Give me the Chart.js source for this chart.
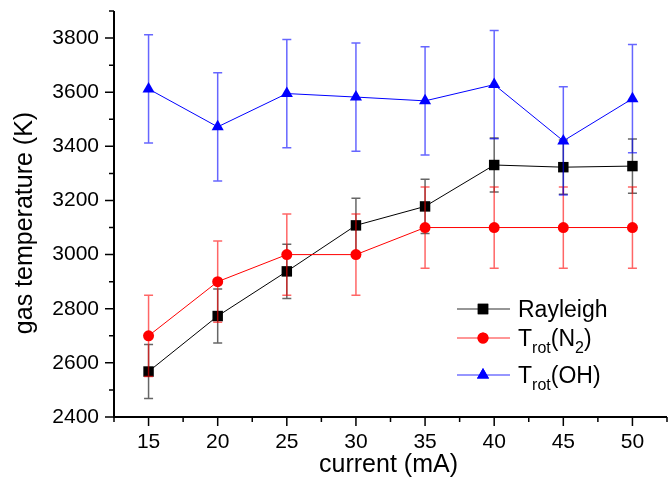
<!DOCTYPE html>
<html>
<head>
<meta charset="utf-8">
<script src="https://cdn.jsdelivr.net/npm/chart.js@4.4.1/dist/chart.umd.min.js"></script>
<style>
  html, body { margin: 0; padding: 0; background: #fff; }
  #wrap { width: 670px; height: 483px; }
</style>
</head>
<body>
<div id="wrap"><canvas id="chart" width="670" height="483"></canvas></div>
<script>
const currents = [15, 20, 25, 30, 35, 40, 45, 50];
const rayleigh = [2568, 2773, 2938, 3108, 3178, 3331, 3323, 3327];
const rayleighErr = [100, 100, 100, 100, 100, 100, 100, 100];
const trotN2 = [2700, 2900, 3000, 3000, 3100, 3100, 3100, 3100];
const trotN2Err = [150, 150, 150, 150, 150, 150, 150, 150];
const trotOH = [3612, 3472, 3595, 3582, 3568, 3628, 3420, 3576];
const trotOHErr = [200, 200, 200, 200, 200, 200, 200, 200];
const xTicks = [15, 20, 25, 30, 35, 40, 45, 50];
const yTicks = [2400, 2600, 2800, 3000, 3200, 3400, 3600, 3800];

const FONT = '"Liberation Sans", Arial, sans-serif';
const errColors = ['rgba(0,0,0,0.6)', 'rgba(255,0,0,0.6)', 'rgba(0,0,255,0.6)'];
const errData = [rayleighErr, trotN2Err, trotOHErr];

const toPoints = ys => currents.map((x, i) => ({ x: x, y: ys[i] }));

// error bars, drawn right after each dataset so the stacking matches
const errorBars = {
    id: 'errorBars',
    afterDatasetDraw(chart, args) {
        const errs = errData[args.index];
        const vals = [rayleigh, trotN2, trotOH][args.index];
        const { ctx, scales: { x, y } } = chart;
        ctx.save();
        ctx.strokeStyle = errColors[args.index];
        ctx.lineWidth = 1.5;
        currents.forEach((c, i) => {
            const px = x.getPixelForValue(c);
            const top = y.getPixelForValue(vals[i] + errs[i]);
            const bot = y.getPixelForValue(vals[i] - errs[i]);
            ctx.beginPath();
            ctx.moveTo(px, top); ctx.lineTo(px, bot);
            ctx.moveTo(px - 4.5, top); ctx.lineTo(px + 4.5, top);
            ctx.moveTo(px - 4.5, bot); ctx.lineTo(px + 4.5, bot);
            ctx.stroke();
        });
        ctx.restore();
    }
};

// axis lines, major/minor ticks, titles and the legend
const decorations = {
    id: 'decorations',
    afterDraw(chart) {
        const { ctx, chartArea: a, scales: { x, y } } = chart;
        ctx.save();
        ctx.strokeStyle = '#000';
        ctx.lineWidth = 2;
        ctx.beginPath();
        ctx.moveTo(a.left, a.top); ctx.lineTo(a.left, a.bottom + 1);
        ctx.moveTo(a.left - 1, a.bottom); ctx.lineTo(a.right, a.bottom);
        ctx.stroke();

        ctx.lineWidth = 1.5;
        ctx.beginPath();
        for (let v = 12.5; v <= 52.5; v += 2.5) {
            const px = x.getPixelForValue(v);
            const len = v % 5 === 0 ? 9 : 5;
            ctx.moveTo(px, a.bottom); ctx.lineTo(px, a.bottom + len);
        }
        for (let v = 2400; v <= 3900; v += 100) {
            const py = y.getPixelForValue(v);
            const len = v % 200 === 0 ? 9 : 5;
            ctx.moveTo(a.left, py); ctx.lineTo(a.left - len, py);
        }
        ctx.stroke();

        ctx.fillStyle = '#000';
        ctx.font = '25px ' + FONT;
        ctx.textAlign = 'center';
        ctx.textBaseline = 'alphabetic';
        ctx.fillText('current (mA)', (a.left + a.right) / 2 - 2, 472);

        ctx.save();
        ctx.translate(32, 223);
        ctx.rotate(-Math.PI / 2);
        ctx.fillText('gas temperature (K)', 0, 0);
        ctx.restore();

        // legend
        const rows = [
            { color: '#000', line: 'rgba(0,0,0,0.55)', style: 'rect', base: 317, parts: [['Rayleigh', false]] },
            { color: '#f00', line: 'rgba(255,0,0,0.55)', style: 'circle', base: 346, parts: [['T', false], ['rot', true], ['(N', false], ['2', true], [')', false]] },
            { color: '#00f', line: 'rgba(0,0,255,0.55)', style: 'triangle', base: 383, parts: [['T', false], ['rot', true], ['(OH)', false]] }
        ];
        const radii = { rect: 7.4, circle: 5.5, triangle: 7 };
        rows.forEach(r => {
            const cy = r.base - 8;
            ctx.strokeStyle = r.line;
            ctx.lineWidth = 1.5;
            ctx.beginPath();
            ctx.moveTo(457, cy); ctx.lineTo(510, cy);
            ctx.stroke();
            ctx.fillStyle = r.color;
            Chart.helpers.drawPoint(ctx, { pointStyle: r.style, radius: radii[r.style], borderWidth: 0, rotation: 0 }, 483, cy);
            ctx.fill();

            let tx = 518;
            ctx.fillStyle = '#000';
            ctx.textAlign = 'left';
            r.parts.forEach(([txt, sub]) => {
                ctx.font = (sub ? '16px ' : '23px ') + FONT;
                ctx.fillText(txt, tx, sub ? r.base + 7 : r.base);
                tx += ctx.measureText(txt).width;
            });
        });
        ctx.restore();
    }
};

new Chart(document.getElementById('chart'), {
    type: 'line',
    data: {
        datasets: [
            {
                label: 'Rayleigh',
                data: toPoints(rayleigh),
                borderColor: '#000',
                backgroundColor: '#000',
                borderWidth: 1,
                pointStyle: 'rect',
                pointRadius: 7.4,
                pointBorderWidth: 0,
                order: 3
            },
            {
                label: 'Trot(N2)',
                data: toPoints(trotN2),
                borderColor: '#ff0000',
                backgroundColor: '#ff0000',
                borderWidth: 1,
                pointStyle: 'circle',
                pointRadius: 5.5,
                pointBorderWidth: 0,
                order: 2
            },
            {
                label: 'Trot(OH)',
                data: toPoints(trotOH),
                borderColor: '#0000ff',
                backgroundColor: '#0000ff',
                borderWidth: 1,
                pointStyle: 'triangle',
                pointRadius: 7,
                pointBorderWidth: 0,
                order: 1
            }
        ]
    },
    options: {
        responsive: false,
        animation: false,
        layout: { autoPadding: false, padding: { top: 11, right: 3, left: 0, bottom: 0 } },
        plugins: {
            legend: { display: false },
            tooltip: { enabled: false }
        },
        scales: {
            x: {
                type: 'linear',
                min: 12.5,
                max: 52.5,
                grid: { display: false, drawTicks: false },
                border: { display: false },
                afterBuildTicks: axis => { axis.ticks = xTicks.map(v => ({ value: v })); },
                afterFit: axis => { axis.height = 66; axis.paddingLeft = 0; axis.paddingRight = 0; },
                ticks: { color: '#000', font: { family: FONT, size: 21 }, padding: 13, maxRotation: 0, callback: v => String(v) }
            },
            y: {
                min: 2400,
                max: 3900,
                grid: { display: false, drawTicks: false },
                border: { display: false },
                afterBuildTicks: axis => { axis.ticks = yTicks.map(v => ({ value: v })); },
                afterFit: axis => { axis.width = 114; axis.paddingTop = 0; axis.paddingBottom = 0; },
                ticks: { color: '#000', font: { family: FONT, size: 21 }, padding: 15, callback: v => String(v) }
            }
        }
    },
    plugins: [errorBars, decorations]
});
</script>
</body>
</html>
